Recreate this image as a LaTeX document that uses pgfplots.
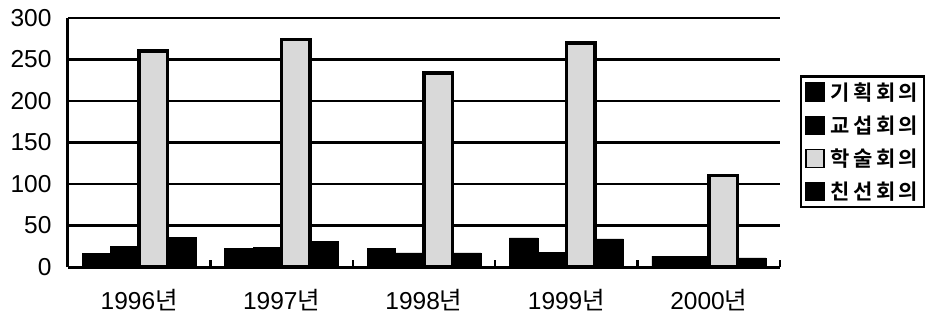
\documentclass[border=0pt]{standalone}
\usepackage{pgfplots}
\pgfplotsset{compat=1.18}
\usepackage{fontspec}
\setmainfont{Liberation Sans}
\newfontfamily\kr[LetterSpace=16, BoldFont=* Bold]{Noto Sans CJK KR}
\newfontfamily\krx{Noto Sans CJK KR}
\begin{document}
\begin{tikzpicture}
\useasboundingbox (0,0) rectangle (940pt,314pt);
\begin{axis}[
  at={(68pt,47pt)}, anchor=south west,
  scale only axis, width=712pt, height=249pt,
  ybar=0pt, bar width=0.2,
  xmin=-0.5, xmax=4.5, ymin=0, ymax=300,
  ytick={0,50,...,300},
  xtick={0,1,2,3,4},
  xticklabels={1996{\krx 년},1997{\krx 년},1998{\krx 년},1999{\krx 년},2000{\krx 년}},
  extra x ticks={0.5,1.5,2.5,3.5,4.5},
  extra x tick labels={},
  extra x tick style={major tick length=7pt, tick style={line width=2.5pt, black}, tick align=inside, grid=none},
  major tick length=0pt,
  axis x line*=bottom, axis y line*=left,
  axis line style={-, line width=3pt, black},
  ymajorgrids, grid style={line width=2.6pt, black},
  /pgf/number format/assume math mode=true,
  tick label style={font=\fontsize{24.5}{26}\selectfont},
  yticklabel style={xshift=-13pt},
  xticklabel style={yshift=-19pt},
  legend style={at={(1.028,0.77)}, anchor=north west, draw=black, line width=2.5pt,
    font=\fontsize{21}{24}\selectfont\bfseries, row sep=10pt, inner sep=4pt,
    legend cell align=left},
  legend image code/.code={\draw[#1, line width=1.5pt] (0pt,-9pt) rectangle (18pt,9pt);},
  clip=false,
]
\addplot[fill=black, draw=black, line width=0.5pt] coordinates {(0,16) (1,22) (2,22) (3,35) (4,13)};
\addplot[fill=black, draw=black, line width=0.5pt] coordinates {(0,25) (1,24) (2,17) (3,18) (4,13)};
\addplot[fill=black!15, draw=black, line width=3.5pt] coordinates {(0,260) (1,274) (2,234) (3,270) (4,110)};
\addplot[fill=black, draw=black, line width=0.5pt] coordinates {(0,36) (1,31) (2,17) (3,34) (4,11)};
\legend{{\hspace{4pt}\kr 기획회의},{\hspace{4pt}\kr 교섭회의},{\hspace{4pt}\kr 학술회의},{\hspace{4pt}\kr 친선회의}}
\end{axis}
\end{tikzpicture}
\end{document}
